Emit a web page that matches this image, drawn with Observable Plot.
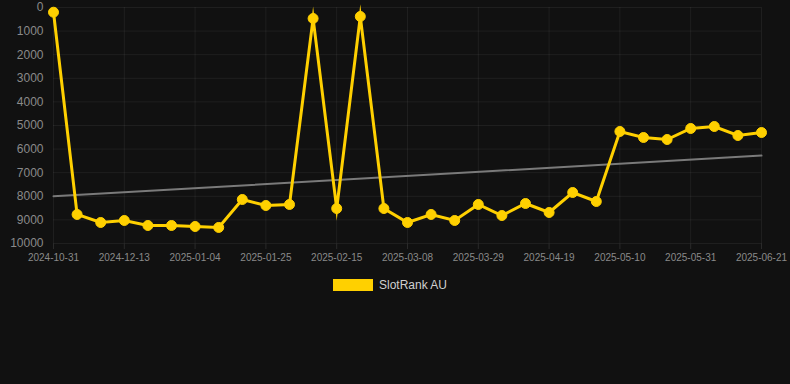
<!DOCTYPE html>
<html>
<head>
<meta charset="utf-8">
<script src="https://cdn.jsdelivr.net/npm/d3@7"></script>
<script src="https://cdn.jsdelivr.net/npm/@observablehq/plot@0.6"></script>
<style>
  html, body { margin: 0; padding: 0; background: #111111; }
  body { width: 790px; height: 384px; overflow: hidden; font-family: "Liberation Sans", Arial, sans-serif; }
  #legend { display: flex; justify-content: center; align-items: center; margin-top: 8px; padding-right: 10px; font-size: 12px; color: #d0d0d0; }
  #legend .sw { width: 40px; height: 12px; background: #FFD000; margin-right: 6px; }
</style>
</head>
<body>
<div id="chart"></div>
<div id="legend"><span class="sw"></span><span>SlotRank AU</span></div>
<script>
const dates = ["2024-10-31","2024-11-29","2024-12-06","2024-12-13","2024-12-20","2024-12-27","2025-01-04","2025-01-11","2025-01-18","2025-01-25","2025-02-01","2025-02-08","2025-02-15","2025-02-22","2025-03-01","2025-03-08","2025-03-15","2025-03-22","2025-03-29","2025-04-05","2025-04-12","2025-04-19","2025-04-26","2025-05-03","2025-05-10","2025-05-17","2025-05-24","2025-05-31","2025-06-07","2025-06-14","2025-06-21"];
const ranks = [200,8770,9110,9025,9237,9237,9280,9320,8135,8390,8347,466,8517,381,8517,9110,8770,9025,8347,8814,8305,8686,7839,8220,5254,5508,5593,5127,5042,5424,5297];
const yTicks = [0,1000,2000,3000,4000,5000,6000,7000,8000,9000,10000];
const xTickIdx = d3.range(0, dates.length, 3);
const seriesName = "SlotRank AU";

const data = ranks.map((v, i) => ({i, date: dates[i], rank: v}));

const chart = Plot.plot({
  width: 790,
  height: 270,
  marginTop: 7,
  marginBottom: 27,
  marginLeft: 53,
  marginRight: 29,
  style: {background: "#111111", fontFamily: "Liberation Sans, Arial, sans-serif"},
  x: {domain: [0, dates.length - 1], ticks: xTickIdx, tickFormat: i => dates[i], label: null},
  y: {domain: [0, 10000], reverse: true, ticks: yTicks, label: null},
  marks: [
    Plot.gridY(yTicks, {stroke: "#ffffff", strokeOpacity: 0.06, strokeWidth: 1}),
    Plot.gridX(xTickIdx, {stroke: "#ffffff", strokeOpacity: 0.06, strokeWidth: 1, y1: 0, y2: 10000}),
    Plot.axisY({ticks: yTicks, tickSize: 0, tickPadding: 10, fontSize: 12, fill: "#8a8a8a", tickFormat: d => String(d), label: null}),
    Plot.axisX({ticks: xTickIdx, tickFormat: i => dates[i], tickSize: 6, stroke: "#2a2a2a", tickPadding: 4, fontSize: 10, fill: "#8a8a8a", label: null}),
    Plot.linearRegressionY(data, {x: "i", y: "rank", ci: 0, stroke: "#7a7a7a", strokeWidth: 2}),
    Plot.line(data, {x: "i", y: "rank", stroke: "#FFD000", strokeWidth: 3, strokeLinejoin: "miter", strokeMiterlimit: 10}),
    Plot.dot(data, {x: "i", y: "rank", r: 5, fill: "#FFD000", stroke: "#FFD000", strokeWidth: 1})
  ]
});
document.getElementById("chart").appendChild(chart);
</script>
</body>
</html>
